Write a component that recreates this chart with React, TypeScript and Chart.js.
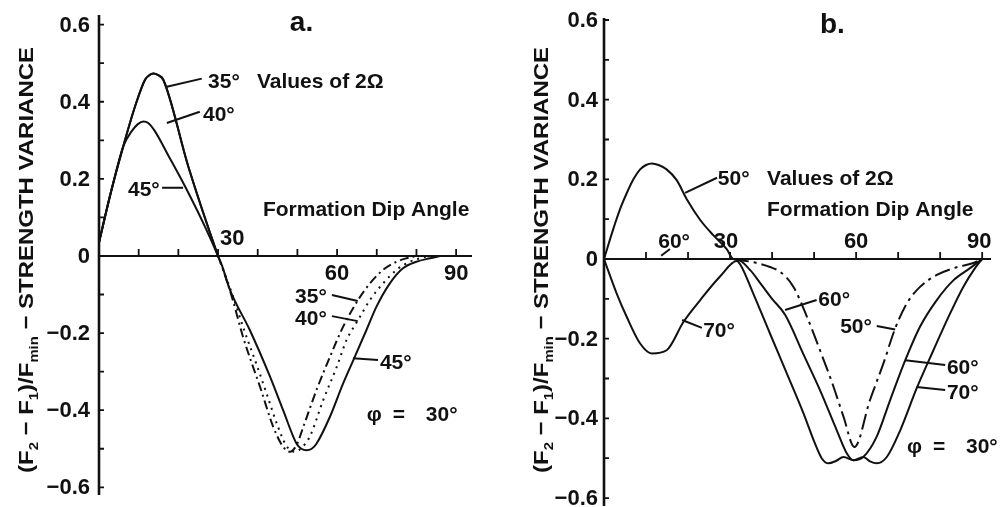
import React, { useEffect, useRef } from "react";
import { Chart, registerables } from "chart.js";
Chart.register(...registerables);

// ---------------- Panel a : values of 2Ω = 35°, 40°, 45° ----------------
const A_X_35 = [0, 3, 6.1, 9, 11.6, 12.7, 13.7, 14.9, 16.2, 22.5, 30, 31.3, 33.6, 36.3, 38.9, 40.6, 43.9, 46.4, 48.1, 49.8, 51.5, 54.8, 58.2, 61.5, 65.3, 68.3, 71.6, 75, 77.5, 80];
const A_Y_35 = [0.035, 0.165, 0.284, 0.385, 0.457, 0.469, 0.473, 0.469, 0.457, 0.232, 0, -0.036, -0.11, -0.21, -0.29, -0.34, -0.443, -0.495, -0.508, -0.49, -0.443, -0.348, -0.262, -0.184, -0.114, -0.071, -0.036, -0.015, -0.006, 0];

const A_X_40 = [0, 3, 6.1, 9, 11.6, 12.7, 13.7, 14.9, 16.2, 22.5, 30, 31.3, 33.6, 36.5, 40, 42.5, 45, 47.2, 49.3, 51, 53.1, 56.5, 59.9, 62.4, 65.3, 68.3, 71.6, 75, 78.3, 80.9, 83];
const A_Y_40 = [0.035, 0.165, 0.284, 0.385, 0.457, 0.469, 0.473, 0.469, 0.457, 0.232, 0, -0.036, -0.1, -0.19, -0.29, -0.365, -0.44, -0.492, -0.508, -0.498, -0.469, -0.374, -0.288, -0.218, -0.166, -0.114, -0.071, -0.036, -0.015, -0.006, 0];

const A_X_45 = [0, 3, 6.1, 8.2, 9.8, 11.2, 12.4, 14, 17.5, 21.7, 26.7, 30, 31, 33, 38, 43.1, 46.4, 49.8, 51, 52.3, 53.6, 54.8, 58.2, 61.5, 64.1, 67.4, 69.9, 73.3, 76.6, 80, 83.4, 86];
const A_Y_45 = [0.035, 0.165, 0.284, 0.323, 0.342, 0.349, 0.345, 0.325, 0.26, 0.18, 0.076, 0, -0.025, -0.088, -0.192, -0.313, -0.4, -0.487, -0.5, -0.504, -0.5, -0.487, -0.417, -0.331, -0.27, -0.192, -0.132, -0.071, -0.032, -0.015, -0.006, 0];

// ---------------- Panel b : values of 2Ω = 50°, 60°, 70° ----------------
const B_X_50 = [0, 2.2, 4, 5.4, 7, 8.6, 10, 11.4, 13, 14.9, 17.3, 19.7, 22.9, 26, 29.2, 30.7, 32, 34.5, 37.1, 39.5, 41.9, 45.1, 48.3, 51.4, 54.6, 57, 59.6, 63.3, 66.5, 69.3, 72.1, 75.2, 79.2, 83.2, 87.9, 90];
const B_Y_50 = [0, 0.075, 0.13, 0.165, 0.2, 0.225, 0.236, 0.24, 0.236, 0.225, 0.198, 0.15, 0.098, 0.06, 0.025, 0, -0.003, -0.006, -0.012, -0.02, -0.032, -0.07, -0.145, -0.229, -0.32, -0.396, -0.472, -0.354, -0.262, -0.174, -0.111, -0.07, -0.04, -0.023, -0.01, 0];

const B_X_60 = [0, 31.5, 34.8, 37.5, 40, 43.1, 47.5, 51.4, 55.4, 57.8, 59.4, 61.7, 64.9, 68.1, 71.7, 75.2, 79.2, 83.2, 87.1, 90];
const B_Y_60 = [0, 0, -0.028, -0.065, -0.1, -0.14, -0.24, -0.329, -0.43, -0.488, -0.505, -0.497, -0.446, -0.354, -0.254, -0.17, -0.103, -0.053, -0.023, 0];

const B_X_70 = [0, 3, 5.4, 8.6, 11.4, 14.9, 18.9, 22.9, 27.6, 31.6, 32.5, 35.5, 39.5, 43.5, 47.5, 50.2, 51.8, 53.4, 55.2, 57, 59.4, 61.7, 63.3, 64.9, 67.3, 70.5, 74.4, 78.4, 82.4, 85.5, 88.3, 90];
const B_Y_70 = [0, -0.086, -0.145, -0.212, -0.237, -0.229, -0.158, -0.103, -0.044, -0.005, -0.015, -0.086, -0.187, -0.287, -0.388, -0.463, -0.5, -0.513, -0.507, -0.497, -0.505, -0.497, -0.508, -0.513, -0.497, -0.43, -0.325, -0.229, -0.136, -0.07, -0.023, 0];

// ---------------- Axes ----------------
const Y_TICKS = [-0.6, -0.5, -0.4, -0.3, -0.2, -0.1, 0, 0.1, 0.2, 0.3, 0.4, 0.5, 0.6];
const Y_TICK_LABELS = ["\u22120.6", "", "\u22120.4", "", "\u22120.2", "", "0", "", "0.2", "", "0.4", "", "0.6"];
const X_TICKS = [10, 20, 30, 40, 50, 60, 70, 80, 90];
const X_TICK_LABELS = ["", "", "30", "", "", "60", "", "", "90"];

const Y_TITLE_PARTS: [string, boolean][] = [
  ["(F", false], ["2", true], [" \u2212 F", false], ["1", true], [")/F", false], ["min", true], [" \u2212 STRENGTH VARIANCE", false],
];

type Note = { t: string; x: number; y: number; size?: number };
type Ptr = [number, number, number, number];
type TickPos = { dx: number; dy: number; align: CanvasTextAlign };

const A_NOTES: Note[] = [
  { t: "a.", x: 48.1, y: 0.584, size: 28 },
  { t: "35\u00b0", x: 27.5, y: 0.436 },
  { t: "Values of 2\u03a9", x: 39.8, y: 0.436 },
  { t: "40\u00b0", x: 26.2, y: 0.351 },
  { t: "45\u00b0", x: 7.3, y: 0.156 },
  { t: "Formation Dip Angle", x: 41.3, y: 0.104 },
  { t: "35\u00b0", x: 49.4, y: -0.122 },
  { t: "40\u00b0", x: 49.4, y: -0.179 },
  { t: "45\u00b0", x: 70.8, y: -0.294 },
];
const A_PTRS: Ptr[] = [
  [17.1, 0.439, 25.9, 0.46],
  [17.1, 0.345, 25.4, 0.374],
  [15.9, 0.177, 21.2, 0.177],
  [58.7, -0.101, 65.2, -0.117],
  [58.7, -0.156, 65.2, -0.169],
  [64.0, -0.265, 70.3, -0.27],
];
const A_PHI: [number, number] = [67.5, -0.428];

const B_NOTES: Note[] = [
  { t: "b.", x: 51.4, y: 0.568, size: 28 },
  { t: "50\u00b0", x: 27.1, y: 0.186 },
  { t: "Values of 2\u03a9", x: 38.8, y: 0.186 },
  { t: "Formation Dip Angle", x: 38.8, y: 0.108 },
  { t: "60\u00b0", x: 12.9, y: 0.028 },
  { t: "70\u00b0", x: 23.6, y: -0.196 },
  { t: "60\u00b0", x: 51.0, y: -0.118 },
  { t: "50\u00b0", x: 56.2, y: -0.186 },
  { t: "60\u00b0", x: 81.6, y: -0.289 },
  { t: "70\u00b0", x: 81.6, y: -0.352 },
];
const B_PTRS: Ptr[] = [
  [19.3, 0.166, 26.9, 0.204],
  [15.7, 0.025, 13.6, 0.008],
  [18.6, -0.153, 23.3, -0.173],
  [43.1, -0.128, 50.6, -0.103],
  [64.9, -0.168, 69.3, -0.177],
  [71.7, -0.254, 81.2, -0.266],
  [74.4, -0.321, 81.2, -0.329],
];
const B_PHI: [number, number] = [72.1, -0.487];

const FONT = '"Liberation Sans", Arial, Helvetica, sans-serif';
const INK = "#111";

type PanelCfg = {
  left: number;
  xMax: number;
  yMin: number;
  yMax: number;
  padding: { left: number; right: number; top: number; bottom: number };
  series: { xs: number[]; ys: number[]; dash?: number[] }[];
  notes: Note[];
  ptrs: Ptr[];
  phi: [number, number];
  tickPos: Record<string, TickPos>;
  yLabelGap: number;
  titleX: number;
};

const PANELS: PanelCfg[] = [
  {
    left: 0,
    xMax: 94,
    yMin: -0.62,
    yMax: 0.625,
    padding: { left: 99, right: 28, top: 15, bottom: 12 },
    series: [
      { xs: A_X_45, ys: A_Y_45 },
      { xs: A_X_40, ys: A_Y_40, dash: [2, 5] },
      { xs: A_X_35, ys: A_Y_35, dash: [9, 4, 2, 4] },
    ],
    notes: A_NOTES,
    ptrs: A_PTRS,
    phi: A_PHI,
    tickPos: {
      "30": { dx: 2, dy: -11, align: "left" },
      "60": { dx: 0, dy: 24, align: "center" },
      "90": { dx: 0, dy: 24, align: "center" },
    },
    yLabelGap: 9,
    titleX: 33,
  },
  {
    left: 500,
    xMax: 92.1,
    yMin: -0.62,
    yMax: 0.605,
    padding: { left: 104, right: 9, top: 18, bottom: 1 },
    series: [
      { xs: B_X_70, ys: B_Y_70 },
      { xs: B_X_60, ys: B_Y_60 },
      { xs: B_X_50, ys: B_Y_50, dash: [16, 5, 3, 5] },
    ],
    notes: B_NOTES,
    ptrs: B_PTRS,
    phi: B_PHI,
    tickPos: {
      "30": { dx: -4, dy: -11, align: "center" },
      "60": { dx: 0, dy: -11, align: "center" },
      "90": { dx: -3, dy: -11, align: "center" },
    },
    yLabelGap: 6,
    titleX: 48,
  },
];

function drawYTitle(ctx: CanvasRenderingContext2D, cx: number, cy: number, length: number) {
  const big = `bold 21px ${FONT}`;
  const small = `bold 13px ${FONT}`;
  let w = 0;
  const widths = Y_TITLE_PARTS.map(([t, sub]) => {
    ctx.font = sub ? small : big;
    const m = ctx.measureText(t).width;
    w += m;
    return m;
  });
  ctx.save();
  ctx.translate(cx, cy);
  ctx.rotate(-Math.PI / 2);
  ctx.scale(length / w, 1);
  ctx.fillStyle = INK;
  ctx.textBaseline = "alphabetic";
  ctx.textAlign = "left";
  let x = -w / 2;
  Y_TITLE_PARTS.forEach(([t, sub], i) => {
    ctx.font = sub ? small : big;
    ctx.fillText(t, x, sub ? 5 : 0);
    x += widths[i];
  });
  ctx.restore();
}

function makePlugin(cfg: PanelCfg) {
  return {
    id: "panelDecor",
    beforeDatasetsDraw(chart: any) {
      const ctx: CanvasRenderingContext2D = chart.ctx;
      const xs = chart.scales.x;
      const ys = chart.scales.y;
      const x0 = xs.getPixelForValue(0);
      const y0 = ys.getPixelForValue(0);
      ctx.save();
      ctx.strokeStyle = INK;
      ctx.lineCap = "butt";
      // y axis
      ctx.lineWidth = 2.6;
      ctx.beginPath();
      ctx.moveTo(x0, ys.getPixelForValue(ys.max));
      ctx.lineTo(x0, ys.getPixelForValue(ys.min));
      ctx.stroke();
      // x axis
      ctx.lineWidth = 2;
      ctx.beginPath();
      ctx.moveTo(x0, y0);
      ctx.lineTo(xs.getPixelForValue(xs.max), y0);
      ctx.stroke();
      // ticks
      ctx.lineWidth = 1.8;
      ctx.beginPath();
      Y_TICKS.forEach((v) => {
        const py = ys.getPixelForValue(v);
        ctx.moveTo(x0, py);
        ctx.lineTo(x0 + 5, py);
      });
      X_TICKS.forEach((v) => {
        const px = xs.getPixelForValue(v);
        ctx.moveTo(px, y0);
        ctx.lineTo(px, y0 - 7);
      });
      ctx.stroke();
      // y tick labels
      ctx.fillStyle = INK;
      ctx.font = `bold 22px ${FONT}`;
      ctx.textAlign = "right";
      ctx.textBaseline = "middle";
      Y_TICKS.forEach((v, i) => {
        const lab = Y_TICK_LABELS[i];
        if (lab) ctx.fillText(lab, x0 - cfg.yLabelGap, ys.getPixelForValue(v) + 1);
      });
      // x tick labels
      ctx.textBaseline = "alphabetic";
      X_TICKS.forEach((v, i) => {
        const lab = X_TICK_LABELS[i];
        if (!lab) return;
        const p = cfg.tickPos[lab];
        ctx.textAlign = p.align;
        ctx.fillText(lab, xs.getPixelForValue(v) + p.dx, y0 + p.dy);
      });
      ctx.restore();
    },
    afterDatasetsDraw(chart: any) {
      const ctx: CanvasRenderingContext2D = chart.ctx;
      const xs = chart.scales.x;
      const ys = chart.scales.y;
      ctx.save();
      ctx.fillStyle = INK;
      ctx.strokeStyle = INK;
      ctx.textAlign = "left";
      ctx.textBaseline = "alphabetic";
      cfg.notes.forEach((n) => {
        ctx.font = `bold ${n.size || 21}px ${FONT}`;
        ctx.fillText(n.t, xs.getPixelForValue(n.x), ys.getPixelForValue(n.y));
      });
      ctx.lineWidth = 2;
      ctx.beginPath();
      cfg.ptrs.forEach(([a, b, c, d]) => {
        ctx.moveTo(xs.getPixelForValue(a), ys.getPixelForValue(b));
        ctx.lineTo(xs.getPixelForValue(c), ys.getPixelForValue(d));
      });
      ctx.stroke();
      // φ = 30°
      const px = xs.getPixelForValue(cfg.phi[0]);
      const py = ys.getPixelForValue(cfg.phi[1]);
      ctx.font = `bold 21px ${FONT}`;
      ctx.fillText("\u03c6", px, py);
      ctx.fillText("=", px + 26, py);
      ctx.fillText("30\u00b0", px + 59, py);
      drawYTitle(ctx, cfg.titleX, 260, 426);
      ctx.restore();
    },
  };
}

function Panel({ cfg }: { cfg: PanelCfg }) {
  const ref = useRef<HTMLCanvasElement>(null);
  useEffect(() => {
    if (!ref.current) return;
    const datasets = cfg.series.map((s) => ({
      data: s.xs.map((x, i) => ({ x, y: s.ys[i] })),
      borderColor: INK,
      borderWidth: 2,
      pointRadius: 0,
      fill: false,
      cubicInterpolationMode: "monotone" as const,
      segment: s.dash
        ? {
            borderDash: (c: any) =>
              c.p0.parsed.y < -0.002 || c.p1.parsed.y < -0.002 ? s.dash : undefined,
          }
        : undefined,
    }));
    const chart = new Chart(ref.current, {
      type: "line",
      data: { datasets: datasets as any },
      options: {
        animation: false,
        responsive: false,
        devicePixelRatio: 1,
        layout: { padding: cfg.padding },
        plugins: { legend: { display: false }, tooltip: { enabled: false } },
        events: [],
        scales: {
          x: { type: "linear", min: 0, max: cfg.xMax, display: false },
          y: { type: "linear", min: cfg.yMin, max: cfg.yMax, display: false },
        },
      },
      plugins: [makePlugin(cfg)],
    });
    return () => chart.destroy();
  }, []);
  return (
    <canvas
      ref={ref}
      width={500}
      height={507}
      style={{ position: "absolute", left: cfg.left, top: 0, width: 500, height: 507 }}
    />
  );
}

export default function App() {
  return (
    <div style={{ position: "absolute", left: 0, top: 0, width: 1000, height: 507, background: "#fff", overflow: "hidden" }}>
      {PANELS.map((p, i) => (
        <Panel key={i} cfg={p} />
      ))}
    </div>
  );
}
